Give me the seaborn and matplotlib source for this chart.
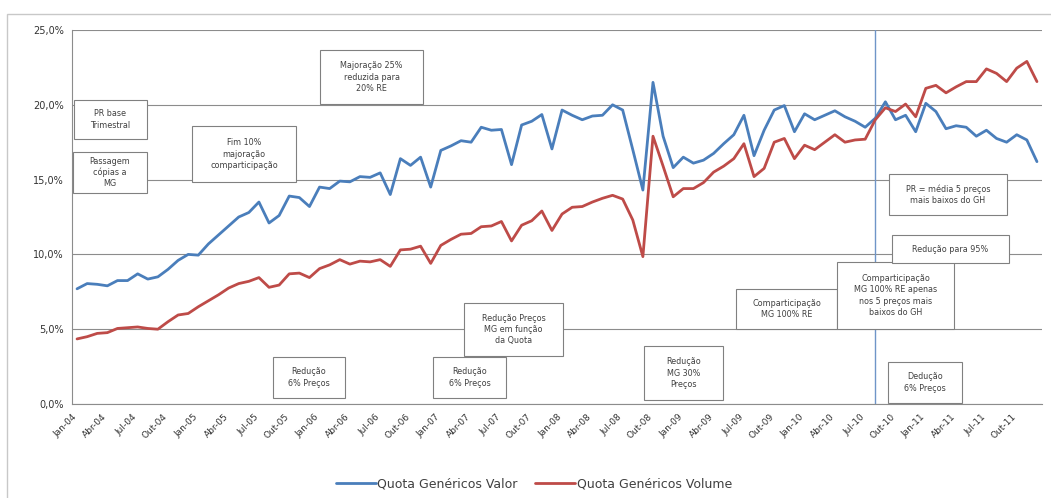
import pandas as pd
import seaborn as sns
import matplotlib.pyplot as plt
from matplotlib.patches import Rectangle
from matplotlib.ticker import FuncFormatter

# meses / anos do eixo
meses = ['Jan', 'Fev', 'Mar', 'Abr', 'Mai', 'Jun', 'Jul', 'Ago', 'Set', 'Out', 'Nov', 'Dez']
anos = ['04', '05', '06', '07', '08', '09', '10', '11']
periodos = [m + '-' + a for a in anos for m in meses]

# quota de genericos em valor (%)
quota_valor = [7.7, 8.05, 8.0, 7.9, 8.25, 8.25, 8.7, 8.35, 8.5, 9.0, 9.6, 10.0,
               9.95, 10.7, 11.3, 11.9, 12.5, 12.8, 13.5, 12.1, 12.6, 13.9, 13.8, 13.2,
               14.5, 14.4, 14.9, 14.85, 15.2, 15.15, 15.45, 14.0, 16.4, 15.95, 16.5, 14.5,
               16.95, 17.25, 17.6, 17.5, 18.5, 18.3, 18.35, 16.0, 18.65, 18.9, 19.35, 17.05,
               19.65, 19.3, 19.0, 19.25, 19.3, 20.0, 19.65, 17.0, 14.3, 21.5, 17.9, 15.8,
               16.5, 16.1, 16.3, 16.75, 17.4, 18.0, 19.3, 16.6, 18.3, 19.65, 19.95, 18.2,
               19.4, 19.0, 19.3, 19.6, 19.2, 18.9, 18.5, 19.1, 20.2, 19.0, 19.3, 18.2,
               20.1, 19.55, 18.4, 18.6, 18.5, 17.9, 18.3, 17.75, 17.5, 18.0, 17.65, 16.2]

# quota de genericos em volume (%)
quota_volume = [4.35, 4.5, 4.72, 4.77, 5.05, 5.1, 5.15, 5.05, 5.0, 5.5, 5.95, 6.05,
                6.5, 6.9, 7.3, 7.75, 8.05, 8.2, 8.45, 7.8, 7.95, 8.7, 8.75, 8.45,
                9.05, 9.3, 9.65, 9.35, 9.55, 9.5, 9.65, 9.2, 10.3, 10.35, 10.55, 9.4,
                10.6, 11.0, 11.35, 11.4, 11.85, 11.9, 12.2, 10.9, 11.95, 12.25, 12.9, 11.6,
                12.7, 13.15, 13.2, 13.5, 13.75, 13.95, 13.7, 12.3, 9.85, 17.9, 15.9, 13.85,
                14.4, 14.4, 14.8, 15.5, 15.9, 16.4, 17.4, 15.2, 15.75, 17.5, 17.75, 16.4,
                17.3, 17.0, 17.5, 18.0, 17.5, 17.65, 17.7, 19.0, 19.8, 19.55, 20.05, 19.2,
                21.1, 21.3, 20.8, 21.2, 21.55, 21.55, 22.4, 22.1, 21.55, 22.45, 22.9, 21.55]

series = ['Quota Genéricos Valor', 'Quota Genéricos Volume']
cores = ['#4A7EBB', '#BE4B48']

# medidas (eventos) anotadas no grafico: caixa em pixeis da imagem e texto
caixas = [
    (74, 100, 147, 139, 'PR base\nTrimestral'),
    (73, 152, 147, 193, 'Passagem\ncópias a\nMG'),
    (192, 126, 296, 182, 'Fim 10%\nmajoração\ncomparticipação'),
    (320, 50, 423, 104, 'Majoração 25%\nreduzida para\n20% RE'),
    (273, 357, 345, 398, 'Redução\n6% Preços'),
    (433, 357, 506, 398, 'Redução\n6% Preços'),
    (464, 303, 563, 356, 'Redução Preços\nMG em função\nda Quota'),
    (644, 346, 723, 400, 'Redução\nMG 30%\nPreços'),
    (736, 289, 837, 329, 'Comparticipação\nMG 100% RE'),
    (837, 262, 954, 329, 'Comparticipação\nMG 100% RE apenas\nnos 5 preços mais\nbaixos do GH'),
    (892, 235, 1009, 263, 'Redução para 95%'),
    (889, 174, 1007, 215, 'PR = média 5 preços\nmais baixos do GH'),
    (888, 362, 962, 403, 'Dedução\n6% Preços'),
]
mes_corte = 79  # linha vertical (Ago-10)

df = pd.DataFrame({
    'mes': list(range(len(periodos))) * 2,
    'quota': quota_valor + quota_volume,
    'serie': [series[0]] * len(quota_valor) + [series[1]] * len(quota_volume),
})

W, H = 1051, 498
sns.set_style('white')
plt.rcParams['font.family'] = ['DejaVu Sans']
fig, ax = plt.subplots(figsize=(W / 100, H / 100), dpi=100)
fig.subplots_adjust(left=72 / W, right=1042 / W, top=1 - 30 / H, bottom=1 - 404 / H)

sns.lineplot(data=df, x='mes', y='quota', hue='serie', palette=cores, linewidth=2.0, ax=ax)

ax.set_xlim(-0.5, len(periodos) - 0.5)
ax.set_ylim(0, 25)
ax.set_yticks([0, 5, 10, 15, 20, 25])
ax.yaxis.set_major_formatter(FuncFormatter(lambda v, p: ('%.1f%%' % v).replace('.', ',')))
ax.set_xticks([i - 0.5 for i in range(0, len(periodos), 3)])
ax.set_xticklabels(periodos[::3], rotation=45, ha='right', rotation_mode='anchor')
ax.set_xlabel('')
ax.set_ylabel('')
ax.grid(axis='y', color='#8c8c8c', linewidth=0.8)
ax.set_axisbelow(True)
for s in ['top', 'right']:
    ax.spines[s].set_visible(False)
for s in ['left', 'bottom']:
    ax.spines[s].set_color('#8c8c8c')
    ax.spines[s].set_linewidth(0.8)
ax.tick_params(axis='both', which='major', direction='out', length=4, width=0.8,
               color='#8c8c8c', labelsize=6.5, labelcolor='#333333', pad=2)
ax.tick_params(axis='y', labelsize=7)

ax.axvline(mes_corte, color='#6F95C8', linewidth=1.0, zorder=1)

handles, labels = ax.get_legend_handles_labels()
ax.legend(handles, labels, loc='center', bbox_to_anchor=(534 / W, 1 - 484 / H),
          bbox_transform=fig.transFigure, ncol=2, frameon=False, fontsize=9,
          handlelength=3.2, columnspacing=1.4, handletextpad=0.1, labelcolor='#404040')

# caixas de texto com as medidas
for x0, y0, x1, y1, texto in caixas:
    fig.add_artist(Rectangle((x0 / W, 1 - y1 / H), (x1 - x0) / W, (y1 - y0) / H,
                             transform=fig.transFigure, facecolor='white',
                             edgecolor='#808080', linewidth=0.8, zorder=5))
    fig.text((x0 + x1) / 2 / W, 1 - (y0 + y1) / 2 / H, texto, ha='center', va='center',
             fontsize=5.8, color='#404040', linespacing=1.3, zorder=6)

# moldura do grafico
fig.add_artist(Rectangle((7 / W, -0.1), 1.2, 1 - 14 / H + 0.1, transform=fig.transFigure,
                         fill=False, edgecolor='#c8c8c8', linewidth=1.0, zorder=0))

fig.savefig('out.png', dpi=100)
